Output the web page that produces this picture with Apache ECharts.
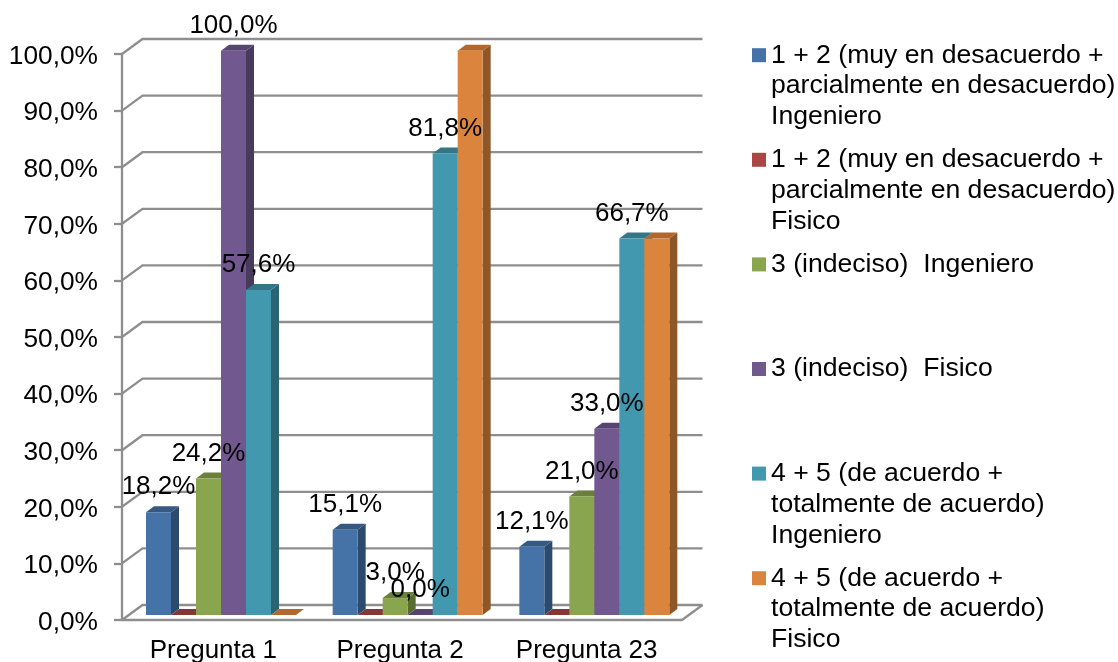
<!DOCTYPE html>
<html><head><meta charset="utf-8">
<style>html,body{margin:0;padding:0;background:#fff}#c{width:1118px;height:662px}</style>
<script src="https://cdn.jsdelivr.net/npm/echarts@6/dist/echarts.min.js"></script>
</head><body><div id="c"></div>
<script>
const categories = ['Pregunta 1', 'Pregunta 2', 'Pregunta 23'];
const yTicks = [0, 10, 20, 30, 40, 50, 60, 70, 80, 90, 100];
const names = [
  '1 + 2 (muy en desacuerdo +\nparcialmente en desacuerdo)\nIngeniero',
  '1 + 2 (muy en desacuerdo +\nparcialmente en desacuerdo)\nFisico',
  '3 (indeciso)  Ingeniero',
  '3 (indeciso)  Fisico',
  '4 + 5 (de acuerdo +\ntotalmente de acuerdo)\nIngeniero',
  '4 + 5 (de acuerdo +\ntotalmente de acuerdo)\nFisico'
];
const muyIngeniero = [18.2, 15.1, 12.1];
const muyFisico = [0, 0, 0];
const indecisoIngeniero = [24.2, 3.0, 21.0];
const indecisoFisico = [100, 0, 33.0];
const acuerdoIngeniero = [57.6, 81.8, 66.7];
const acuerdoFisico = [0, 100, 66.7];
const labelled = [true, false, true, true, true, false];
const frontColors = ['#4572A7', '#AA4643', '#89A54E', '#71588F', '#4198AF', '#DB843D'];
const sideColors = ['#2C4A6E', '#6F2D2B', '#596C32', '#49395D', '#2A6372', '#8F5628'];
const topColors = ['#365982', '#853735', '#6B803D', '#58456F', '#337688', '#B0682E'];
const allValues = [muyIngeniero, muyFisico, indecisoIngeniero, indecisoFisico, acuerdoIngeniero, acuerdoFisico];

const FONT = '26px "Liberation Sans", Arial, sans-serif';
const fmt = v => v.toFixed(1).replace('.', ',') + '%';
const WALL = {dx: 20.5, dy: -15};
const BAR = {dx: 8, dy: -6, baseUp: 5, lead: 24, widthShare: 25 / 186.67, heightShare: 0.997};

function wallItem(params, api) {
  const v = api.value(1);
  const band = api.size([1, 0])[0];
  const p = api.coord([0, v]);
  const xl = p[0] - band / 2, xr = xl + band * 3, y = p[1];
  const st = {stroke: '#8E8E8E', lineWidth: 2.3, fill: null};
  const children = [
    {type: 'polyline', shape: {points: [[xl, y], [xl + WALL.dx, y + WALL.dy], [xr + WALL.dx, y + WALL.dy]]}, style: st}
  ];
  if (v === 0) {
    children.push({type: 'polyline', shape: {points: [[xr, y], [xr + WALL.dx, y + WALL.dy]]}, style: st});
  }
  return {type: 'group', children};
}

function barItem(si) {
  return function (params, api) {
    const cat = api.value(0), v = api.value(1);
    const band = api.size([1, 0])[0];
    const w = band * BAR.widthShare;
    const c0 = api.coord([cat, 0]), c = api.coord([cat, v]);
    const x0 = c0[0] - band / 2 + BAR.lead + si * w;
    const x1 = x0 + w;
    const yb = c0[1] - BAR.baseUp;
    const yt = yb - (c0[1] - c[1]) * BAR.heightShare;
    const d = BAR;
    const children = [
      {type: 'polygon', shape: {points: [[x1, yb], [x1 + d.dx, yb + d.dy], [x1 + d.dx, yt + d.dy], [x1, yt]]}, style: {fill: sideColors[si]}},
      {type: 'polygon', shape: {points: [[x0, yt], [x1, yt], [x1 + d.dx, yt + d.dy], [x0 + d.dx, yt + d.dy]]}, style: {fill: topColors[si]}},
      {type: 'rect', shape: {x: x0, y: yt, width: w, height: yb - yt}, style: {fill: frontColors[si]}}
    ];
    if (labelled[si]) {
      children.push({type: 'text', z2: 100, style: {
        text: fmt(v), x: (x0 + x1) / 2, y: yt + d.dy - 19,
        align: 'center', verticalAlign: 'middle', font: FONT, fill: '#000'
      }});
    }
    return {type: 'group', children};
  };
}

const series = [{
  type: 'custom', name: 'walls', silent: true, clip: false, z: 1,
  coordinateSystem: 'cartesian2d', renderItem: wallItem,
  encode: {x: 0, y: 1},
  data: yTicks.map(t => [0, t])
}];
names.forEach((n, si) => {
  series.push({
    type: 'custom', name: n, clip: false, z: 2, silent: true,
    coordinateSystem: 'cartesian2d', renderItem: barItem(si),
    itemStyle: {color: frontColors[si]},
    encode: {x: 0, y: 1},
    data: allValues[si].map((v, i) => [i, v])
  });
});

const legends = names.map((n, i) => {
  const lines = n.split('\n').length;
  return {
    data: [n], left: 752, top: 46.7 + i * 104.6 - 68.5,
    orient: 'vertical', icon: 'rect', itemWidth: 14, itemHeight: 14, selectedMode: false,
    padding: 0,
    formatter: s => lines === 3 ? '\n\n' + s : '\n\n' + s + '\n\n',
    textStyle: {fontFamily: 'Liberation Sans', fontSize: 26.6, lineHeight: 30.8, color: '#000'}
  };
});

const chart = echarts.init(document.getElementById('c'), null, {renderer: 'canvas'});
chart.setOption({
  animation: false,
  backgroundColor: '#fff',
  grid: {left: 122, top: 54, width: 560, height: 566, outerBoundsMode: 'none'},
  legend: legends,
  xAxis: {
    type: 'category', data: categories,
    axisLine: {show: true, lineStyle: {color: '#8E8E8E', width: 2.3}},
    axisTick: {show: false},
    axisLabel: {margin: 18, padding: [0, 4, 0, 0], color: '#000', fontFamily: 'Liberation Sans', fontSize: 26}
  },
  yAxis: {
    type: 'value', min: 0, max: 100, interval: 10,
    axisLine: {show: true, lineStyle: {color: '#8E8E8E', width: 2.3}},
    axisTick: {show: true, length: 8, lineStyle: {color: '#8E8E8E', width: 2.3}},
    splitLine: {show: false},
    axisLabel: {margin: 24, verticalAlign: 'top', lineHeight: 5, color: '#000', fontFamily: 'Liberation Sans', fontSize: 26.3, formatter: v => fmt(v)}
  },
  series
});
</script></body></html>
